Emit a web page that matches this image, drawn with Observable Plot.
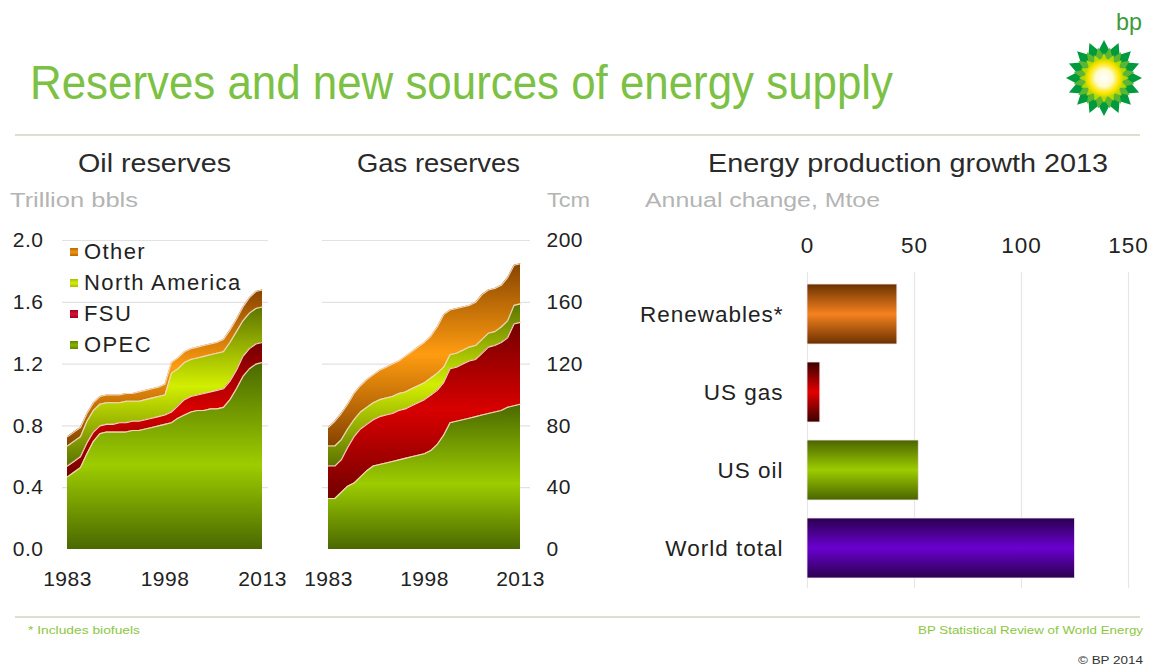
<!DOCTYPE html>
<html>
<head>
<meta charset="utf-8">
<script src="https://cdn.jsdelivr.net/npm/d3@7"></script>
<script src="https://cdn.jsdelivr.net/npm/@observablehq/plot@0.6"></script>
<style>
  html, body { margin: 0; padding: 0; background: #fff; }
  #page { position: relative; width: 1153px; height: 668px; overflow: hidden; background: #fff;
          font-family: "Liberation Sans", Arial, Helvetica, sans-serif; }
  .abs { position: absolute; }
  .txt { position: absolute; white-space: nowrap; line-height: 1; transform-origin: 0 50%; }
  .rule { position: absolute; height: 2px; background: #dde0cc; }
  .leg { position: absolute; font-size: 22px; color: #222; letter-spacing: 1.4px; line-height: 1; white-space: nowrap; }
  .sw { position: absolute; width: 8px; height: 8px; }
</style>
</head>
<body>
<div id="page"></div>
<script>
// ---------------- data ----------------
const years = d3.range(1983, 2014);
const seriesNames = ["OPEC", "FSU", "North America", "Other"];
const yearTicks = [1983, 1998, 2013];

// Oil reserves, trillion barrels (layer values)
const oilOPEC  = [0.47,0.50,0.53,0.62,0.70,0.75,0.76,0.76,0.76,0.76,0.77,0.77,0.78,0.79,0.80,0.81,0.82,0.85,0.87,0.89,0.90,0.90,0.91,0.91,0.92,0.97,1.04,1.12,1.17,1.20,1.21];
const oilFSU   = [0.07,0.07,0.07,0.07,0.06,0.05,0.05,0.05,0.06,0.06,0.06,0.06,0.06,0.06,0.06,0.06,0.07,0.08,0.10,0.10,0.10,0.11,0.11,0.12,0.12,0.12,0.12,0.13,0.13,0.13,0.13];
const oilNA    = [0.13,0.13,0.13,0.14,0.14,0.14,0.14,0.14,0.13,0.14,0.13,0.13,0.13,0.13,0.13,0.13,0.25,0.24,0.24,0.24,0.24,0.24,0.24,0.24,0.24,0.25,0.25,0.23,0.23,0.23,0.23];
const oilOther = [0.06,0.06,0.06,0.05,0.05,0.05,0.05,0.05,0.05,0.05,0.05,0.06,0.06,0.06,0.06,0.07,0.07,0.07,0.07,0.07,0.07,0.07,0.07,0.07,0.08,0.08,0.08,0.09,0.10,0.11,0.11];
const oilTicks = [0, 0.4, 0.8, 1.2, 1.6, 2.0];

// Gas reserves, Tcm (layer values)
const gasOPEC  = [33,33,37,41,43,47,51,54,55,56,57,58,59,60,61,62,64,68,74,82,83,84,85,86,87,88,89,90,92,93,94];
const gasFSU   = [21,21,21,25,30,31,30,30,31,31,31,32,32,33,34,35,36,35,34,35,35,36,37,37,40,43,43,44,45,53,53];
const gasNA    = [13,13,13,12,11,11,11,11,11,11,11,11,11,11,11,11,11,11,10,9,9,9,9,9,9,9,9,10,11,12,12];
const gasOther = [12,16,17,16,17,17,18,18,19,20,21,21,23,24,25,26,27,30,34,29,29,28,27,28,29,28,28,27,28,26,26];
const gasTicks = [0, 40, 80, 120, 160, 200];

// Energy production growth 2013, Mtoe
const barCategories = ["Renewables*", "US gas", "US oil", "World total"];
const barValues = [42, 6, 52, 125];
const barTicks = [0, 50, 100, 150];

// ---------------- helpers ----------------
const page = document.getElementById("page");
const FONT = '"Liberation Sans", Arial, Helvetica, sans-serif';

function longData(layers) {
  const out = [];
  seriesNames.forEach((s, i) => years.forEach((y, j) => out.push({year: y, series: s, value: layers[i][j]})));
  return out;
}
function addGrads(svg, prefix, specs) {
  const defs = d3.select(svg).insert("defs", ":first-child");
  specs.forEach(([name, dark, bright, mid]) => {
    const g = defs.append("linearGradient").attr("id", prefix + name)
      .attr("x1", 0).attr("y1", 0).attr("x2", 0).attr("y2", 1);
    g.append("stop").attr("offset", 0).attr("stop-color", dark);
    g.append("stop").attr("offset", mid).attr("stop-color", bright);
    g.append("stop").attr("offset", 1).attr("stop-color", dark);
  });
}
const idOf = s => s.replace(/[^A-Za-z]/g, "");
function place(el, left, top) { el.style.left = left + "px"; el.style.top = top + "px"; page.appendChild(el); return el; }
function text(str, left, cy, width, size, color, extra = {}) {
  const d = document.createElement("div");
  d.className = "txt";
  d.textContent = str;
  d.style.fontSize = size + "px";
  d.style.color = color;
  Object.assign(d.style, extra);
  place(d, left, cy - size * 0.49);
  const w = d.getBoundingClientRect().width;
  if (width && w > 0) d.style.transform = `scaleX(${width / w})`;
  return d;
}
function rule(left, top, width) {
  const d = document.createElement("div"); d.className = "rule"; d.style.width = width + "px"; place(d, left, top);
}

const layerColors = {
  "OPEC":          ["#4a6800", "#9dcc00", 0.55],
  "FSU":           ["#720000", "#d80000", 0.5],
  "North America": ["#5c7400", "#d2ee00", 0.5],
  "Other":         ["#874400", "#ff9c10", 0.5]
};

// ---------------- oil chart ----------------
const oilData = longData([oilOPEC, oilFSU, oilNA, oilOther]);
const oil = Plot.plot({
  width: 290, height: 370, marginLeft: 67, marginRight: 28, marginTop: 20, marginBottom: 41,
  style: {fontSize: "21px", fontFamily: FONT, color: "#222", background: "transparent", overflow: "visible", letterSpacing: "0.5px"},
  x: {domain: [1983, 2013], ticks: yearTicks, tickFormat: d => String(d), tickSize: 0, tickPadding: 22, label: null},
  y: {domain: [0, 2], ticks: oilTicks, tickFormat: d3.format(".1f"), tickSize: 0, tickPadding: 24, label: null},
  color: {domain: seriesNames, range: seriesNames.map(s => `url(#oil${idOf(s)})`)},
  marks: [
    Plot.ruleY(oilTicks.filter(d => d > 0), {stroke: "#e2e2e2", strokeWidth: 1.2, insetLeft: -5, insetRight: -6}),
    Plot.areaY(oilData, {x: "year", y: "value", z: "series", fill: "series", order: seriesNames}),
    Plot.lineY(oilData, Plot.stackY2({x: "year", y: "value", z: "series", order: seriesNames, stroke: "#f4d8bc", strokeWidth: 1.1}))
  ]
});
addGrads(oil, "oil", seriesNames.map(s => [idOf(s), ...layerColors[s]]));
place(oil, 0, 220).classList.add("abs");

// ---------------- gas chart ----------------
const gasData = longData([gasOPEC, gasFSU, gasNA, gasOther]);
const gas = Plot.plot({
  width: 320, height: 370, marginLeft: 38, marginRight: 90, marginTop: 20, marginBottom: 41,
  style: {fontSize: "21px", fontFamily: FONT, color: "#222", background: "transparent", overflow: "visible", letterSpacing: "0.5px"},
  x: {domain: [1983, 2013], ticks: yearTicks, tickFormat: d => String(d), tickSize: 0, tickPadding: 22, label: null},
  y: {domain: [0, 200], ticks: gasTicks, axis: "right", tickSize: 0, tickPadding: 26, label: null},
  color: {domain: seriesNames, range: seriesNames.map(s => `url(#gas${idOf(s)})`)},
  marks: [
    Plot.ruleY(gasTicks.filter(d => d > 0), {stroke: "#e2e2e2", strokeWidth: 1.2, insetLeft: -6, insetRight: -10}),
    Plot.areaY(gasData, {x: "year", y: "value", z: "series", fill: "series", order: seriesNames}),
    Plot.lineY(gasData, Plot.stackY2({x: "year", y: "value", z: "series", order: seriesNames, stroke: "#f4d8bc", strokeWidth: 1.1}))
  ]
});
addGrads(gas, "gas", seriesNames.map(s => [idOf(s), ...layerColors[s]]));
place(gas, 290, 220).classList.add("abs");

// ---------------- bar chart ----------------
const barData = barCategories.map((c, i) => ({category: c, value: barValues[i]}));
const barColors = {
  "Renewables*": ["#6a3000", "#f5821f", 0.5],
  "US gas":      ["#3a0000", "#e40000", 0.5],
  "US oil":      ["#4a6400", "#9ccc00", 0.5],
  "World total": ["#2a004e", "#6a00d0", 0.5]
};
const bars = Plot.plot({
  width: 553, height: 380, marginLeft: 207, marginRight: 25, marginTop: 39, marginBottom: 7,
  style: {fontSize: "22.5px", fontFamily: FONT, color: "#222", background: "transparent", overflow: "visible", letterSpacing: "1px"},
  x: {domain: [0, 150], ticks: barTicks, axis: "top", tickSize: 0, tickPadding: 12, label: null},
  y: {domain: barCategories, padding: 0.23, tickSize: 0, tickPadding: 24, label: null},
  color: {domain: barCategories, range: barCategories.map(c => `url(#bar${idOf(c)})`)},
  marks: [
    Plot.ruleX(barTicks, {stroke: "#e6e6e6", strokeWidth: 1.2, insetTop: 8, insetBottom: 10}),
    Plot.barX(barData, {x: "value", y: "category", fill: "category", stroke: "#f2e6f0", strokeWidth: 0.8})
  ]
});
addGrads(bars, "bar", barCategories.map(c => [idOf(c), ...barColors[c]]));
place(bars, 600, 225).classList.add("abs");

// ---------------- texts ----------------
text("Reserves and new sources of energy supply", 30, 82, 863, 49, "#7cc144");
rule(15, 134, 1125);
rule(15, 616, 1125);

text("Oil reserves", 78, 163, 153, 25, "#2a2a2a");
text("Gas reserves", 357, 163, 163, 25, "#2a2a2a");
text("Energy production growth 2013", 708, 163, 400, 25, "#2a2a2a");
text("Trillion bbls", 10, 200, 128, 20, "#b4b4b4");
text("Tcm", 547, 200, 43, 20, "#b4b4b4");
text("Annual change, Mtoe", 645, 200, 235, 20, "#b4b4b4");

text("* Includes biofuels", 28, 630, 112, 11, "#8cc63f");
text("BP Statistical Review of World Energy", 918, 630, 225, 11, "#8cc63f");
text("© BP 2014", 1078, 660, 65, 11, "#333");

// legend (oil chart)
const legendItems = ["Other", "North America", "FSU", "OPEC"];
const legendSw = {"Other": "linear-gradient(#b86a00,#f09418,#b86a00)", "North America": "linear-gradient(#a8c000,#d4ee10,#a8c000)",
                  "FSU": "linear-gradient(#a00020,#d8103a,#a00020)", "OPEC": "linear-gradient(#5e8400,#86b400,#5e8400)"};
legendItems.forEach((s, i) => {
  const cy = 252 + i * 31;
  const sw = document.createElement("div"); sw.className = "sw"; sw.style.background = legendSw[s]; place(sw, 70, cy - 4);
  const t = document.createElement("div"); t.className = "leg"; t.textContent = s; place(t, 84, cy - 11);
});

// logo
text("bp", 1116, 22, 26, 24, "#3c9b3c");
const logo = d3.create("svg").attr("width", 90).attr("height", 90).attr("viewBox", "-45 -45 90 90");
const ld = logo.append("defs");
const rg = ld.append("radialGradient").attr("id", "sun");
rg.append("stop").attr("offset", 0).attr("stop-color", "#ffffff");
rg.append("stop").attr("offset", 0.45).attr("stop-color", "#fffbd0");
rg.append("stop").attr("offset", 0.8).attr("stop-color", "#ffe600");
rg.append("stop").attr("offset", 1).attr("stop-color", "#c8d800");
function star(n, ro, ri, rot) {
  const pts = [];
  for (let k = 0; k < 2 * n; k++) {
    const r = k % 2 ? ri : ro, a = rot + k * Math.PI / n;
    pts.push([r * Math.sin(a), -r * Math.cos(a)]);
  }
  return pts.map(p => p.join(",")).join(" ");
}
logo.append("polygon").attr("points", star(16, 38, 28, 0)).attr("fill", "#009a3e");
logo.append("polygon").attr("points", star(16, 31, 22, Math.PI / 16)).attr("fill", "#5db534");
logo.append("polygon").attr("points", star(16, 25, 18, 0)).attr("fill", "#b6d900");
logo.append("circle").attr("r", 19).attr("fill", "url(#sun)");
const lg = logo.node(); lg.classList.add("abs");
place(lg, 1059, 33);
</script>
</body>
</html>
